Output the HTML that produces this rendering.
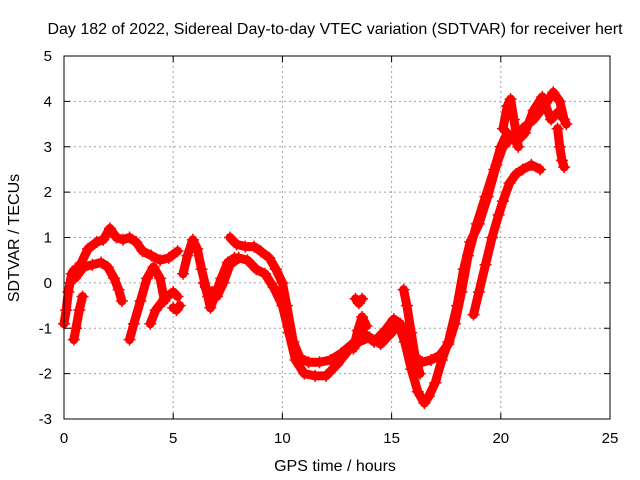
<!DOCTYPE html>
<html><head><meta charset="utf-8"><style>
body{margin:0;background:#fff;width:640px;height:480px;overflow:hidden}
svg{display:block;font-family:"Liberation Sans",sans-serif}
</style></head><body>
<svg id="chart" width="640" height="480">
<text x="335" y="34" font-size="16" text-anchor="middle">Day 182 of 2022, Sidereal Day-to-day VTEC variation (SDTVAR) for receiver hert</text>
<text x="335" y="471" font-size="16" text-anchor="middle">GPS time / hours</text>
<text x="19" y="238" font-size="16" text-anchor="middle" transform="rotate(-90 19 238)">SDTVAR / TECUs</text>
<g id="grid"></g>
<g id="ticks"></g>
<g id="series"></g>
<rect x="64" y="56" width="546" height="363" fill="none" stroke="#000" stroke-width="1"/>
</svg>
<script>
const xTicks=[0,5,10,15,20,25];
const yTicks=[-3,-2,-1,0,1,2,3,4,5];
const s1t=[0.0,0.1,0.2,0.35,0.5];
const s1v=[-0.9,-0.6,-0.2,0.2,0.3];
const s2t=[0.45,0.55,0.7,0.85];
const s2v=[-1.25,-1.0,-0.6,-0.3];
const s3t=[0.5,0.8,1.1,1.5,1.8,2.1,2.4,2.7,3.0,3.3,3.6,4.0,4.4,4.8,5.2];
const s3v=[0.2,0.45,0.75,0.9,0.95,1.2,1.0,0.95,1.0,0.9,0.7,0.6,0.5,0.55,0.7];
const s4t=[0.5,0.9,1.3,1.7,2.0,2.3,2.5,2.65];
const s4v=[0.1,0.35,0.4,0.45,0.35,0.1,-0.15,-0.4];
const s5t=[3.0,3.2,3.5,3.8,4.1,4.4,4.6];
const s5v=[-1.25,-0.9,-0.4,0.1,0.35,0.1,-0.4];
const s6t=[3.95,4.2,4.6,5.0,5.2];
const s6v=[-0.9,-0.6,-0.35,-0.2,-0.3];
const s7t=[5.0,5.15,5.3];
const s7v=[-0.55,-0.6,-0.5];
const s8t=[5.45,5.65,5.9,6.1,6.3,6.5,6.7,6.9,7.2,7.5,7.8,8.0];
const s8v=[0.2,0.6,0.95,0.75,0.3,-0.1,-0.55,-0.3,0.1,0.45,0.55,0.55];
const s9t=[6.4,6.6,6.8,7.0,7.3,7.6,8.0,8.4,8.8,9.2,9.6,10.0,10.3,10.6,11.0,11.5,12.0,12.5,13.0,13.5,14.0,14.5,15.0,15.3,15.6,15.9,16.2,16.5,16.7,17.0,17.3,17.6,18.0,18.3,18.6,19.0,19.4,19.8,20.1,20.5,21.0,21.5,22.0,22.4,22.7,22.9];
const s9v=[0.0,-0.3,-0.2,-0.3,0.0,0.4,0.55,0.5,0.3,0.2,-0.1,-0.5,-1.1,-1.7,-2.0,-2.05,-2.05,-1.8,-1.5,-1.3,-1.2,-1.35,-1.1,-0.9,-1.3,-1.9,-2.4,-2.65,-2.5,-2.2,-1.7,-1.3,-0.5,0.3,0.9,1.3,1.9,2.6,3.0,3.2,3.4,3.6,3.9,4.2,4.0,3.6];
const s10t=[7.6,7.9,8.3,8.7,9.0,9.4,9.7,10.0,10.2,10.5,10.8,11.2,11.7,12.2,12.7,13.2,13.7,14.2,14.7,15.1,15.4,15.7,16.0,16.4,16.8,17.2,17.6,17.9,18.2,18.5,18.9,19.3,19.7,20.0,20.3,20.7,21.1,21.5,21.9,22.3,22.7,23.0];
const s10v=[1.0,0.85,0.8,0.8,0.7,0.55,0.3,0.0,-0.5,-1.3,-1.65,-1.75,-1.75,-1.7,-1.55,-1.35,-1.1,-1.3,-1.05,-0.8,-0.9,-1.2,-1.6,-1.75,-1.7,-1.6,-1.35,-0.9,-0.2,0.6,1.3,1.9,2.5,3.0,3.3,3.1,3.3,3.8,4.1,3.6,3.8,3.5];
const s11t=[18.75,19.0,19.3,19.6,19.9,20.1,20.4,20.7,21.0,21.4,21.8];
const s11v=[-0.7,-0.2,0.4,1.0,1.5,1.8,2.2,2.4,2.5,2.6,2.5];
const s12t=[20.1,20.3,20.45,20.6,20.8];
const s12v=[3.4,3.9,4.05,3.6,3.0];
const s13t=[15.55,15.7,15.9,16.1,16.3];
const s13v=[-0.15,-0.5,-1.1,-1.7,-2.0];
const s14t=[13.35,13.5,13.65];
const s14v=[-0.35,-0.45,-0.35];
const s15t=[13.25,13.45,13.65,13.85];
const s15v=[-1.45,-1.05,-0.75,-0.95];
const s16t=[22.6,22.7,22.8,22.9];
const s16v=[3.4,3.0,2.7,2.55];
const seriesT=[s1t,s2t,s3t,s4t,s5t,s6t,s7t,s8t,s9t,s10t,s11t,s12t,s13t,s14t,s15t,s16t];
const seriesV=[s1v,s2v,s3v,s4v,s5v,s6v,s7v,s8v,s9v,s10v,s11v,s12v,s13v,s14v,s15v,s16v];

const X0=64,X1=610,Y0=419,Y1=56;
const xs=h=>X0+(h-0)/25*(X1-X0);
const ys=v=>Y0-(v+3)/8*(Y0-Y1);
const NS="http://www.w3.org/2000/svg";
const grid=document.getElementById('grid'),ticks=document.getElementById('ticks'),ser=document.getElementById('series');
function mk(tag,attrs,parent){const e=document.createElementNS(NS,tag);for(const k in attrs)e.setAttribute(k,attrs[k]);parent.appendChild(e);return e;}
xTicks.forEach(t=>{
  const x=xs(t);
  if(t>0&&t<25){const g=mk('line',{x1:x,x2:x,y1:Y1,y2:Y0,stroke:'#a0a0a0','stroke-dasharray':'2,3'},grid);
  
  }
  mk('line',{x1:x,x2:x,y1:Y0,y2:Y0-6,stroke:'#000'},ticks);
  mk('line',{x1:x,x2:x,y1:Y1,y2:Y1+6,stroke:'#000'},ticks);
  const l=mk('text',{x:x,y:443,'font-size':15,'text-anchor':'middle'},ticks);l.textContent=t;
  
  
});
yTicks.forEach(t=>{
  const y=ys(t);
  if(t>-3&&t<5){const g=mk('line',{x1:X0,x2:X1,y1:y,y2:y,stroke:'#a0a0a0','stroke-dasharray':'2,3'},grid);
  
  }
  mk('line',{x1:X0,x2:X0+6,y1:y,y2:y,stroke:'#000'},ticks);
  mk('line',{x1:X1,x2:X1-6,y1:y,y2:y,stroke:'#000'},ticks);
  const l=mk('text',{x:52,y:y+5,'font-size':15,'text-anchor':'end'},ticks);l.textContent=t;
  
  
});
seriesT.forEach((T,i)=>{
  const V=seriesV[i];
  const pts=T.map((t,j)=>xs(t)+','+ys(V[j])).join(' ');
  const p=mk('polyline',{points:pts,fill:'none',stroke:'#ff0000','stroke-width':9,'stroke-linejoin':'round','stroke-linecap':'round'},ser);
  
  
  T.forEach((t,j)=>{
    const x=xs(t),y=ys(V[j]);
    const m=mk('path',{d:`M${x-6},${y}H${x+6}M${x},${y-6}V${y+6}`,stroke:'#ff0000','stroke-width':1.5},ser);
    
    
  });
});
</script>
</body></html>
